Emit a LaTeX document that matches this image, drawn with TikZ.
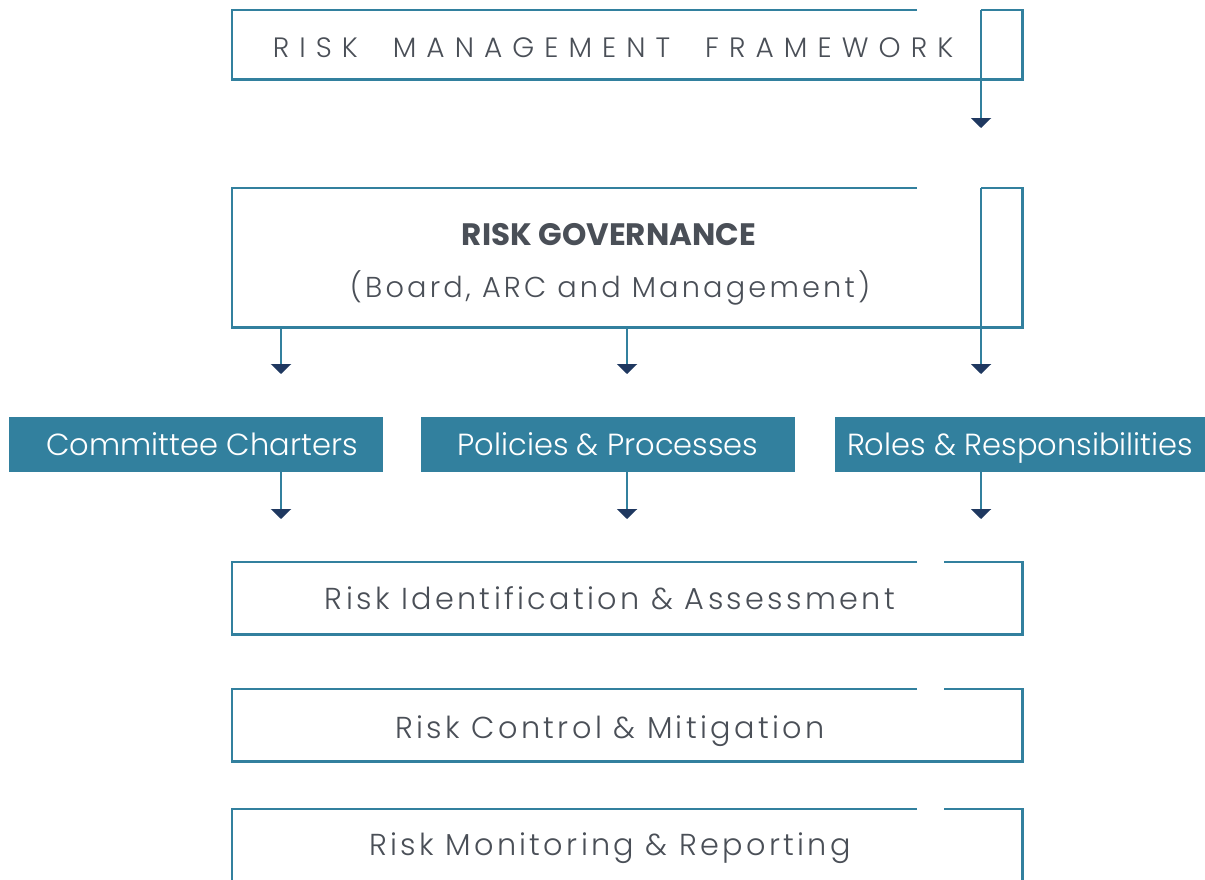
\documentclass[tikz,border=0pt]{standalone}
\usepackage{fontspec}
\setmainfont{Poppins}
\IfFontExistsTF{Poppins Light}{%
  \newfontfamily\wideface[LetterSpace=36]{Poppins Light}
  \newfontfamily\midface[LetterSpace=11]{Poppins Light}
  \newfontfamily\tabface{Poppins Light}}{%
  \newfontfamily\wideface[LetterSpace=36]{Poppins}
  \newfontfamily\midface[LetterSpace=11]{Poppins}
  \newfontfamily\tabface{Poppins}}
\usetikzlibrary{arrows.meta}
\usetikzlibrary{calc}
\usetikzlibrary{positioning}

\definecolor{frameblue}{RGB}{50,128,158}
\definecolor{tipnavy}{RGB}{31,56,96}
\definecolor{textgray}{RGB}{74,79,87}

\begin{document}
\begin{tikzpicture}[
    x=1pt, y=-1pt,
    frame/.style={draw=frameblue, line width=2.6pt},
    stage/.style={minimum width=790pt, minimum height=72pt, inner sep=0pt},
    tab/.style={fill=frameblue, text=white, minimum height=55pt,
      inner sep=0pt, text height=22pt, text depth=0pt,
      font=\tabface\fontsize{30.5}{34}\selectfont},
    caption/.style={text=textgray, inner sep=0pt, anchor=base,
      font=\midface\fontsize{30.3}{34}\selectfont},
    flow/.style={draw=frameblue, line width=2.2pt,
      -{Triangle[color=tipnavy, width=20pt, length=10pt]}},
  ]

    \clip (0,0) rectangle (1205,879);

    % boxes
    \node [stage, minimum height=69pt] (rmf) at (627,44.5) {};
    \node [stage, minimum height=139pt] (gov) at (627,257.5) {};
    \node [tab, minimum width=374pt] (cc) at (196,444.5) {\hspace{12pt}Committee Charters};
    \node [tab, minimum width=374pt] (pp) at (608,444.5) {Policies \& Processes};
    \node [tab, minimum width=370pt] (rr) at (1020,444.5) {Roles \& Responsibilities};
    \node [stage] (rid) at (627,598) {};
    \node [stage] (rcm) at (627,725) {};
    \node [stage] (rmr) at (627,845) {};

    % texts
    \node [caption, font=\wideface\fontsize{28}{32}\selectfont] (rmf-t)
      at (613,57) {RISK\hspace{1.25em}MANAGEMENT\hspace{1.25em}FRAMEWORK};
    \node [caption, font=\bfseries\fontsize{31}{34}\selectfont] (gov-t)
      at (609,245) {RISK GOVERNANCE};
    \node [caption, font=\midface\fontsize{28.8}{34}\selectfont] (gov-s)
      at (610,297) {(Board, ARC and Management)};
    \node [caption] (rid-t) at (610,609) {Risk Identification \& Assessment};
    \node [caption] (rcm-t) at (610,738) {Risk Control \& Mitigation};
    \node [caption] (rmr-t) at (610,855) {Risk Monitoring \& Reporting};

    % outlines with the gap top right
    \coordinate (tip0) at (981,128);
    \draw [frame] ([xshift=-105pt]rmf.north east) -| (rmf.south west)
      -| (rmf.north east) -- (rmf.north -| tip0);
    \draw [frame] ([xshift=-105pt]gov.north east) -| (gov.south west)
      -| (gov.north east) -- (gov.north -| tip0);
    \foreach \b in {rid, rcm, rmr} {
      \draw [frame] ([xshift=-105pt]\b.north east) -| (\b.south west)
        -| (\b.north east) -- ([xshift=-78pt]\b.north east);
    }

    % arrows
    \draw [flow] (rmf.north -| tip0) -- (tip0);
    \foreach \x [count=\i] in {281, 627, 981} {
      \coordinate (tipA\i) at (\x,374);
      \coordinate (tipB\i) at (\x,519);
      \draw [flow] (gov.south -| tipA\i) -- (tipA\i);
      \draw [flow] (cc.south -| tipB\i) -- (tipB\i);
    }
    \draw [frame, line width=2.2pt] (gov.north -| tipA3) -- (gov.south -| tipA3);

\end{tikzpicture}
\end{document}
